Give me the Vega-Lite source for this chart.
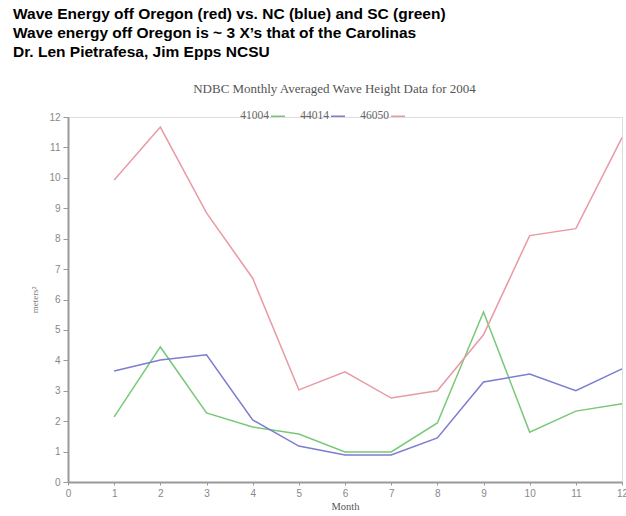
{
  "$schema": "https://vega.github.io/schema/vega-lite/v6.json",
  "autosize": "none",
  "padding": {"left": 68, "top": 117, "right": 4, "bottom": 34},
  "background": "white",
  "width": 554,
  "height": 365,
  "title": {
    "text": ["Wave Energy off Oregon (red) vs. NC (blue) and SC (green)", "Wave energy off Oregon is ~ 3 X’s that of the Carolinas", "Dr. Len Pietrafesa, Jim Epps NCSU"],
    "anchor": "start",
    "frame": "group",
    "dx": -55,
    "font": "Liberation Sans",
    "fontSize": 15.5,
    "fontWeight": "bold",
    "color": "#000000",
    "lineHeight": 19,
    "offset": 22
  },
  "data": {
    "values": [
      {"month": 1, "station": "41004", "value": 2.14},
      {"month": 2, "station": "41004", "value": 4.44},
      {"month": 3, "station": "41004", "value": 2.27},
      {"month": 4, "station": "41004", "value": 1.81},
      {"month": 5, "station": "41004", "value": 1.58},
      {"month": 6, "station": "41004", "value": 0.99},
      {"month": 7, "station": "41004", "value": 0.99},
      {"month": 8, "station": "41004", "value": 1.94},
      {"month": 9, "station": "41004", "value": 5.59},
      {"month": 10, "station": "41004", "value": 1.64},
      {"month": 11, "station": "41004", "value": 2.33},
      {"month": 12, "station": "41004", "value": 2.57},
      {"month": 1, "station": "44014", "value": 3.65},
      {"month": 2, "station": "44014", "value": 4.01},
      {"month": 3, "station": "44014", "value": 4.18},
      {"month": 4, "station": "44014", "value": 2.04},
      {"month": 5, "station": "44014", "value": 1.18},
      {"month": 6, "station": "44014", "value": 0.89},
      {"month": 7, "station": "44014", "value": 0.89},
      {"month": 8, "station": "44014", "value": 1.45},
      {"month": 9, "station": "44014", "value": 3.29},
      {"month": 10, "station": "44014", "value": 3.55},
      {"month": 11, "station": "44014", "value": 3.0},
      {"month": 12, "station": "44014", "value": 3.72},
      {"month": 1, "station": "46050", "value": 9.93},
      {"month": 2, "station": "46050", "value": 11.67},
      {"month": 3, "station": "46050", "value": 8.85},
      {"month": 4, "station": "46050", "value": 6.7},
      {"month": 5, "station": "46050", "value": 3.03},
      {"month": 6, "station": "46050", "value": 3.62},
      {"month": 7, "station": "46050", "value": 2.76},
      {"month": 8, "station": "46050", "value": 3.0},
      {"month": 9, "station": "46050", "value": 4.84},
      {"month": 10, "station": "46050", "value": 8.1},
      {"month": 11, "station": "46050", "value": 8.33},
      {"month": 12, "station": "46050", "value": 11.32}
    ]
  },
  "encoding": {
    "y": {
      "field": "value",
      "type": "quantitative",
      "scale": {"domain": [0, 12], "nice": false},
      "axis": {
        "title": "meters²",
        "titleFont": "Liberation Serif",
        "titleFontSize": 9,
        "titleFontWeight": "normal",
        "titleColor": "#777777",
        "titlePadding": 9,
        "values": [0, 0.5, 1, 1.5, 2, 2.5, 3, 3.5, 4, 4.5, 5, 5.5, 6, 6.5, 7, 7.5, 8, 8.5, 9, 9.5, 10, 10.5, 11, 11.5, 12],
        "format": "d",
        "labelExpr": "datum.value % 1 === 0 ? datum.label : ''",
        "tickSize": {"condition": {"test": "datum.value % 1 === 0", "value": 5}, "value": 3},
        "grid": false,
        "domainColor": "#999999",
        "domainWidth": 2,
        "tickColor": "#999999",
        "labelFont": "Liberation Sans",
        "labelFontSize": 10,
        "labelColor": "#888888",
        "labelPadding": 3,
        "labelFlush": false,
        "labelOverlap": false
      }
    }
  },
  "layer": [
    {
      "mark": {"type": "line", "strokeWidth": 1.5},
      "encoding": {
        "x": {
          "field": "month",
          "type": "quantitative",
          "scale": {"domain": [0, 12], "nice": false},
          "axis": {
            "orient": "bottom",
            "title": "Month",
            "titleFont": "Liberation Serif",
            "titleFontSize": 10.5,
            "titleFontWeight": "normal",
            "titleColor": "#555555",
            "titlePadding": 3,
            "values": [0, 1, 2, 3, 4, 5, 6, 7, 8, 9, 10, 11, 12],
            "grid": false,
            "domainColor": "#999999",
            "domainWidth": 2,
            "tickColor": "#999999",
            "tickSize": 3,
            "labelFont": "Liberation Sans",
            "labelFontSize": 10,
            "labelColor": "#888888",
            "labelPadding": 3,
            "labelFlush": false,
            "labelOverlap": false
          }
        },
        "color": {
          "field": "station",
          "type": "nominal",
          "scale": {"domain": ["41004", "44014", "46050"], "range": ["#78c878", "#7c7cd0", "#e89aa4"]},
          "legend": {
            "orient": "none",
            "legendX": 202,
            "legendY": -9,
            "direction": "horizontal",
            "title": null,
            "symbolType": "stroke",
            "symbolSize": 196,
            "symbolStrokeWidth": 1.5,
            "labelAlign": "right",
            "labelOffset": -17,
            "labelFont": "Liberation Serif",
            "labelFontSize": 11.5,
            "labelColor": "#666666",
            "columnPadding": 12
          }
        }
      }
    },
    {
      "mark": {"type": "line", "opacity": 0},
      "encoding": {
        "x": {
          "field": "month",
          "type": "quantitative",
          "scale": {"domain": [0, 12], "nice": false},
          "axis": {
            "orient": "top",
            "title": "NDBC Monthly Averaged Wave Height Data for 2004",
            "titleFont": "Liberation Serif",
            "titleFontSize": 13,
            "titleFontWeight": "normal",
            "titleColor": "#555555",
            "titlePadding": 22,
            "titleX": 266,
            "labels": false,
            "ticks": false,
            "domain": false,
            "grid": false
          }
        },
        "detail": {"field": "station"}
      }
    }
  ],
  "resolve": {"axis": {"x": "independent"}}
}
